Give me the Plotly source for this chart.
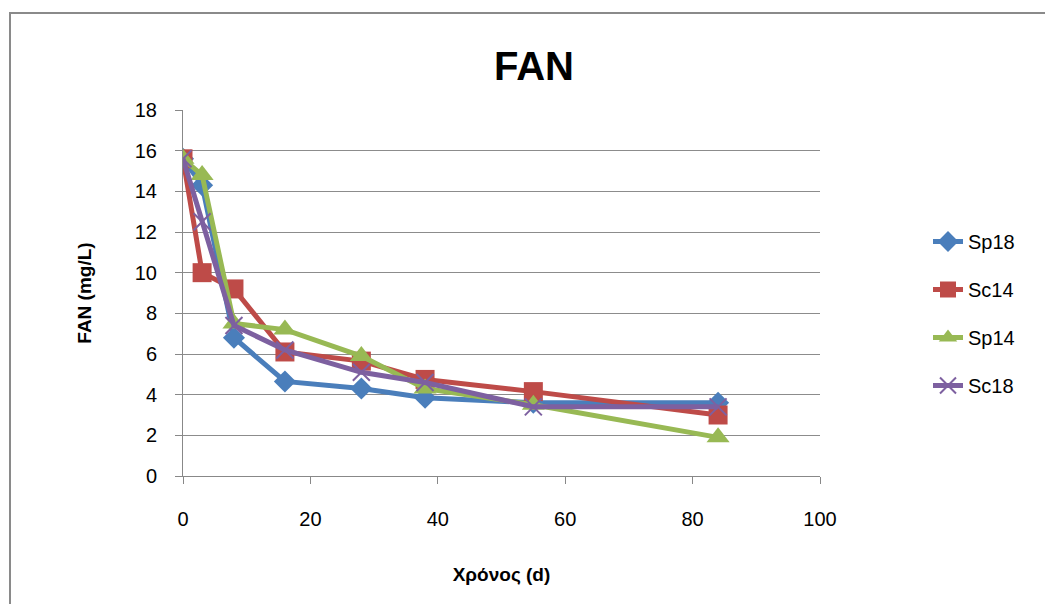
import plotly.graph_objects as go

days = [0, 3, 8, 16, 28, 38, 55, 84]
sp18 = [15.6, 14.3, 6.8, 4.65, 4.3, 3.85, 3.6, 3.6]
sc14 = [15.6, 10.0, 9.2, 6.1, 5.65, 4.75, 4.15, 3.0]
sp14 = [15.6, 14.8, 7.5, 7.2, 5.9, 4.3, 3.5, 1.9]
sc18 = [15.6, 12.5, 7.4, 6.2, 5.1, 4.6, 3.4, 3.4]

series = [
    ("Sp18", sp18, "#4A7EBB", "diamond", 17),
    ("Sc14", sc14, "#BE4B48", "square", 19),
    ("Sp14", sp14, "#98B954", "triangle-up", 20),
    ("Sc18", sc18, "#7D60A0", "x-thin", 17),
]

fig = go.Figure()
for i, (name, vals, col, sym, sz) in enumerate(series):
    fig.add_trace(go.Scatter(
        x=days, y=vals, name=name, mode="lines+markers",
        line=dict(color=col, width=5),
        marker=dict(symbol=sym, size=sz, color=col, line=dict(color=col, width=2 if sym == "x-thin" else 0)),
        legendgroup=name,
    ))

fig.update_layout(
    width=1045, height=604,
    margin=dict(l=183, r=225, t=110, b=128),
    paper_bgcolor="white", plot_bgcolor="white",
    font=dict(family="Liberation Sans, Arial, sans-serif", size=20, color="#000"),
    title=dict(text="<b>FAN</b>", x=534 / 1045, xanchor="center",
               y=1 - 66 / 604, yanchor="middle", font=dict(size=40)),
    xaxis=dict(range=[0, 100], dtick=20, showgrid=False, zeroline=False,
               showline=True, linecolor="#888", linewidth=1,
               ticks="outside", ticklen=7, tickcolor="#888", ticklabelstandoff=18,
               title=dict(text="<b>Χρόνος (d)</b>", font=dict(size=19), standoff=38)),
    yaxis=dict(range=[0, 18], dtick=2, showgrid=True, gridcolor="#8c8c8c", gridwidth=1,
               zeroline=False, showline=True, linecolor="#888", linewidth=1,
               ticks="outside", ticklen=7, tickcolor="#888", ticklabelstandoff=14,
               title=dict(text="<b>FAN (mg/L)</b>", font=dict(size=19), standoff=38)),
    legend=dict(x=(928 - 183) / 637, y=(476 - 222) / 366, xanchor="left", yanchor="top",
                font=dict(size=20), tracegroupgap=19, bgcolor="rgba(0,0,0,0)"),
    showlegend=True,
)

fig.add_shape(type="rect", xref="paper", yref="paper",
              x0=(10 - 183) / 637, x1=(1050 - 183) / 637,
              y0=(476 - 610) / 366, y1=(476 - 13) / 366,
              line=dict(color="#8a8a8a", width=2), fillcolor="rgba(0,0,0,0)", layer="below")

fig.write_html("out.html")
